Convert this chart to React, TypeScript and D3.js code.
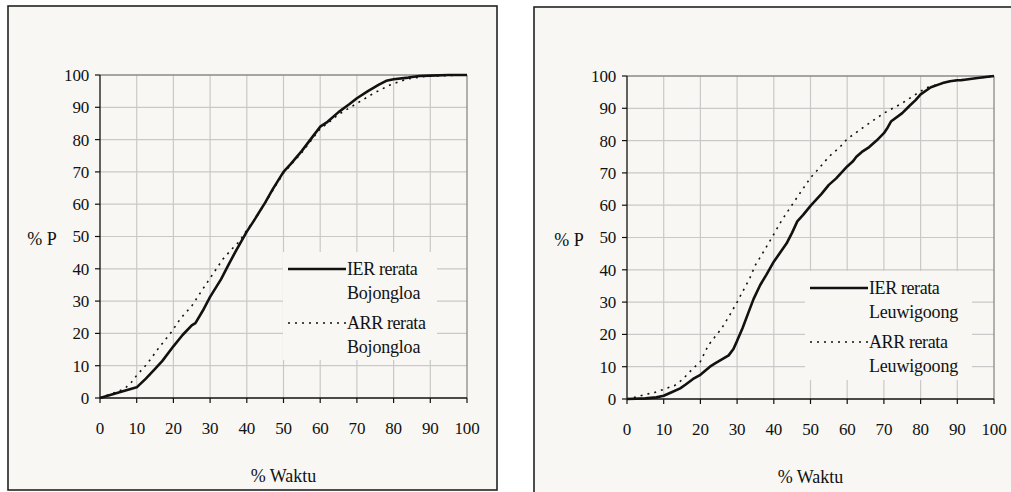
import * as d3 from 'd3'

// tick values, shared by both charts
const xTicks = [0, 10, 20, 30, 40, 50, 60, 70, 80, 90, 100]
const yTicks = [0, 10, 20, 30, 40, 50, 60, 70, 80, 90, 100]

// Bojongloa (left chart)
const waktuIerBojongloa = [0, 3, 6, 10, 12.5, 15, 17, 20, 22.5, 25, 26, 28, 30, 33, 35, 37, 40, 42, 45, 47, 50, 52, 55, 58, 60, 62, 65, 68, 70, 73, 76, 78, 80, 84, 87, 90, 95, 100]
const pIerBojongloa = [0, 1, 2, 3.3, 6, 9, 11.5, 16, 19.5, 22.5, 23.2, 27, 31.3, 36.8, 41.2, 45.5, 51.5, 55, 60.5, 64.5, 70, 72.5, 76.5, 81, 84, 85.5, 88.5, 91, 92.8, 95, 97, 98.2, 98.7, 99.2, 99.7, 99.8, 100, 100]
const waktuArrBojongloa = [0, 2.7, 5, 7, 8.5, 10, 13, 16, 19.5, 22, 25, 28, 31, 33.5, 36, 38, 40, 42.5, 45.5, 48, 50, 55, 60, 62, 65, 70, 74.5, 79, 83.5, 88, 94, 100]
const pArrBojongloa = [0, 1.2, 2, 3.2, 4.8, 7, 10.8, 15.5, 20.5, 24.7, 28.5, 33.7, 38.8, 43, 46.2, 48.5, 52, 55.8, 61.3, 66, 69.6, 76, 83.4, 85, 87.8, 91.2, 94.3, 96.9, 98.7, 99.5, 99.8, 100]

// Leuwigoong (right chart)
const waktuIerLeuwigoong = [0, 5, 8, 10, 12, 14.5, 16, 18, 20, 22.6, 24, 25.5, 27.7, 29, 30, 31.5, 33, 34.5, 36.3, 38, 40, 43.5, 45, 46.4, 48, 50, 53, 55, 57, 60, 61.5, 62.5, 64, 66, 68, 70, 71, 72, 75, 77, 78.7, 80, 82.8, 86, 88, 90, 91, 95, 100]
const pIerLeuwigoong = [0, 0.2, 0.5, 1, 2, 3.3, 4.5, 6.2, 7.5, 10, 11, 12, 13.5, 15.5, 18, 22, 26.5, 31, 35.3, 38.5, 42.5, 48.2, 51.5, 55, 57, 59.8, 63.5, 66.3, 68.3, 72, 73.5, 75, 76.5, 78, 80, 82.3, 84, 86, 88.5, 90.8, 92.6, 94.3, 96.5, 97.8, 98.4, 98.7, 98.7, 99.3, 100]
const waktuArrLeuwigoong = [0, 2, 5, 7.5, 10, 13, 15, 17.6, 20, 22.2, 25.8, 28, 30, 33.5, 35, 37.2, 40, 42, 44.9, 47, 50, 52, 55, 58, 60, 65, 70, 75, 80, 82, 86, 90, 95, 100]
const pArrLeuwigoong = [0, 0.5, 1.4, 2, 3, 4.2, 5.9, 9, 11.6, 16.7, 21.9, 26, 30, 37.5, 41.5, 45.6, 51, 55, 60, 63.5, 68.5, 71, 75, 78, 80.5, 84.6, 88.5, 91.6, 95.3, 96.5, 97.8, 98.7, 99.3, 100]

const BG = '#f8f7f3'
const FONT = "'Liberation Serif', 'DejaVu Serif', serif"

const zip = (xs, ys) => xs.map((x, i) => [x, ys[i]])

const Chart = ({ frame, plot, ier, arr, site, legend }) => {
  const x = d3.scaleLinear().domain([0, 100]).range([plot.left, plot.right])
  const y = d3.scaleLinear().domain([0, 100]).range([plot.bottom, plot.top])
  const line = d3
    .line()
    .x((d) => x(d[0]))
    .y((d) => y(d[1]))

  return (
    <g fontFamily={FONT} fill="#111">
      <rect x={frame.x} y={frame.y} width={frame.w} height={frame.h} fill={BG} stroke="#222" strokeWidth={1.6} />

      {/* grid */}
      {xTicks.slice(1, -1).map((t) => (
        <line key={'gx' + t} x1={x(t)} x2={x(t)} y1={plot.top} y2={plot.bottom} stroke="#c9c9c9" strokeWidth={1.2} />
      ))}
      {yTicks.slice(1, -1).map((t) => (
        <line key={'gy' + t} x1={plot.left} x2={plot.right} y1={y(t)} y2={y(t)} stroke="#c9c9c9" strokeWidth={1.2} />
      ))}
      {/* plot border top/right */}
      <line x1={plot.left} x2={plot.right} y1={plot.top} y2={plot.top} stroke="#8a8a8a" strokeWidth={1.3} />
      <line x1={plot.right} x2={plot.right} y1={plot.top} y2={plot.bottom} stroke="#8a8a8a" strokeWidth={1.3} />

      {/* legend background hides the grid */}
      <rect x={legend.x} y={legend.y} width={legend.w} height={legend.h} fill={BG} />

      {/* axes */}
      <line x1={plot.left} x2={plot.left} y1={plot.top} y2={plot.bottom} stroke="#111" strokeWidth={1.3} />
      <line x1={plot.left} x2={plot.right} y1={plot.bottom} y2={plot.bottom} stroke="#111" strokeWidth={1.3} />
      {yTicks.map((t) => (
        <g key={'ty' + t}>
          <line x1={plot.left - 5} x2={plot.left} y1={y(t)} y2={y(t)} stroke="#111" strokeWidth={1.2} />
          <text x={plot.left - 11} y={y(t)} dy="0.35em" textAnchor="end" fontSize={17} letterSpacing={-0.2}>
            {t}
          </text>
        </g>
      ))}
      {xTicks.map((t) => (
        <g key={'tx' + t}>
          <line x1={x(t)} x2={x(t)} y1={plot.bottom} y2={plot.bottom + 5} stroke="#111" strokeWidth={1.2} />
          <text x={x(t)} y={plot.bottom + 30} dy="0.35em" textAnchor="middle" fontSize={17} letterSpacing={-0.2}>
            {t}
          </text>
        </g>
      ))}

      <text x={plot.left - 58} y={(plot.top + plot.bottom) / 2 + 2} dy="0.35em" textAnchor="middle" fontSize={18}>
        % P
      </text>
      <text x={(plot.left + plot.right) / 2} y={plot.bottom + 78} dy="0.35em" textAnchor="middle" fontSize={18}>
        % Waktu
      </text>

      {/* series */}
      <path d={line(arr)} fill="none" stroke="#111" strokeWidth={1.6} strokeDasharray="2,5" />
      <path d={line(ier)} fill="none" stroke="#111" strokeWidth={2.6} strokeLinejoin="round" />

      {/* legend */}
      <line x1={legend.x + 5} x2={legend.x + 63} y1={legend.y + 17} y2={legend.y + 17} stroke="#111" strokeWidth={2.6} />
      <text x={legend.x + 64} y={legend.y + 17} dy="0.35em" fontSize={18} letterSpacing={-0.4}>
        IER rerata
      </text>
      <text x={legend.x + 64} y={legend.y + 41} dy="0.35em" fontSize={18} letterSpacing={-0.2}>
        {site}
      </text>
      <line x1={legend.x + 5} x2={legend.x + 63} y1={legend.y + 71} y2={legend.y + 71} stroke="#111" strokeWidth={1.6} strokeDasharray="2,5" />
      <text x={legend.x + 64} y={legend.y + 71} dy="0.35em" fontSize={18} letterSpacing={-0.4}>
        ARR rerata
      </text>
      <text x={legend.x + 64} y={legend.y + 95} dy="0.35em" fontSize={18} letterSpacing={-0.2}>
        {site}
      </text>
    </g>
  )
}

export default function App() {
  return (
    <svg width={1011} height={492} style={{ position: 'absolute', left: 0, top: 0, background: '#fff' }}>
      <Chart
        frame={{ x: 8, y: 6, w: 489, h: 484 }}
        plot={{ left: 100, right: 467, top: 75, bottom: 398 }}
        ier={zip(waktuIerBojongloa, pIerBojongloa)}
        arr={zip(waktuArrBojongloa, pArrBojongloa)}
        site="Bojongloa"
        legend={{ x: 283, y: 252, w: 154, h: 108 }}
      />
      <Chart
        frame={{ x: 534, y: 7, w: 520, h: 500 }}
        plot={{ left: 627, right: 994, top: 76, bottom: 399 }}
        ier={zip(waktuIerLeuwigoong, pIerLeuwigoong)}
        arr={zip(waktuArrLeuwigoong, pArrLeuwigoong)}
        site="Leuwigoong"
        legend={{ x: 805, y: 271, w: 167, h: 109 }}
      />
    </svg>
  )
}
